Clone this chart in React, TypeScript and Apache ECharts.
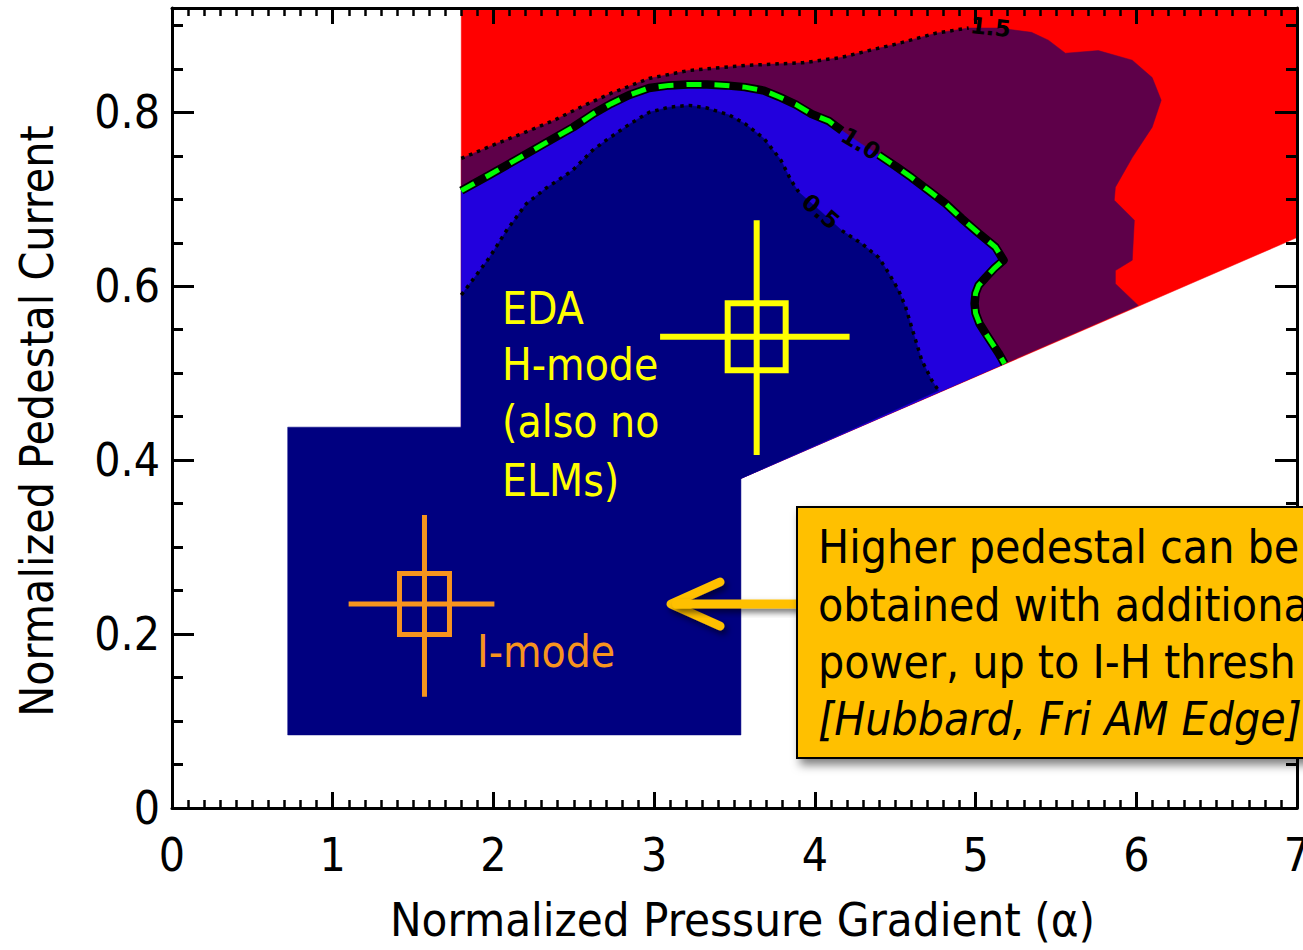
import React, { useEffect, useRef } from "react";
import * as echarts from "echarts";

const FONT = '"DejaVu Sans Condensed", "DejaVu Sans", sans-serif';

// ---- axes ----
const xTickLabels = ["0", "1", "2", "3", "4", "5", "6", "7"];
const yTickLabels = ["0", "0.2", "0.4", "0.6", "0.8"];
const xRange = [0, 7];
const yRange = [0, 0.92];

// ---- contour boundaries (alpha, normalized current) ----
const contour05: number[][] = [
  [1.8, 0.59], [1.87, 0.607], [1.975, 0.633], [2.081, 0.664], [2.205, 0.695], [2.329, 0.713],
  [2.491, 0.733], [2.615, 0.756], [2.702, 0.768], [2.851, 0.787], [2.969, 0.8], [3.093, 0.806],
  [3.217, 0.808], [3.329, 0.805], [3.466, 0.797], [3.565, 0.787], [3.683, 0.77], [3.789, 0.745],
  [3.851, 0.722], [3.901, 0.708], [4.037, 0.686], [4.168, 0.664], [4.292, 0.649], [4.398, 0.633],
  [4.46, 0.615], [4.522, 0.595], [4.565, 0.576], [4.602, 0.553], [4.627, 0.538], [4.665, 0.515],
  [4.727, 0.492], [4.77, 0.48],
];
const contour10: number[][] = [
  [1.8, 0.71], [1.975, 0.728], [2.137, 0.745], [2.317, 0.764], [2.497, 0.783], [2.627, 0.799],
  [2.733, 0.81], [2.845, 0.82], [2.969, 0.828], [3.093, 0.831], [3.211, 0.832], [3.329, 0.832],
  [3.447, 0.831], [3.565, 0.829], [3.683, 0.825], [3.776, 0.818], [3.882, 0.809], [3.981, 0.798],
  [4.087, 0.79], [4.168, 0.779], [4.286, 0.764], [4.398, 0.751], [4.503, 0.738], [4.602, 0.725],
  [4.708, 0.71], [4.814, 0.695], [4.913, 0.678], [5.019, 0.661], [5.124, 0.645], [5.174, 0.63],
  [5.118, 0.621], [5.062, 0.61], [5.019, 0.601], [5.0, 0.592], [4.994, 0.58], [5.0, 0.569],
  [5.025, 0.557], [5.062, 0.546], [5.143, 0.523], [5.18, 0.511],
];
const contour15: number[][] = [
  [1.8, 0.747], [2.019, 0.764], [2.224, 0.779], [2.379, 0.791], [2.565, 0.808], [2.733, 0.822],
  [2.969, 0.839], [3.211, 0.848], [3.565, 0.854], [3.925, 0.857], [4.161, 0.863], [4.335, 0.871],
  [4.516, 0.879], [4.752, 0.891], [4.957, 0.897], [5.143, 0.897], [5.348, 0.892], [5.453, 0.883],
  [5.559, 0.868], [5.764, 0.871], [5.975, 0.86], [6.099, 0.84], [6.155, 0.814], [6.099, 0.783],
  [5.975, 0.748], [5.87, 0.714], [5.863, 0.699], [5.988, 0.676], [5.975, 0.63], [5.87, 0.618],
  [5.87, 0.603], [6.012, 0.578],
];
// lower edge of the scanned domain and its left edge
const lowerEdge: number[][] = [[3.54, 0.379], [7.0, 0.656]];
const scanLeftX = 1.8;
// I-mode operating rectangle
const iModeX = [0.72, 3.54];
const iModeY = [0.084, 0.438];

// data points: [x, y, xLo, xHi, yLo, yHi]
const edaPoint = [3.638, 0.542, 3.037, 4.216, 0.406, 0.676];
const iModePoint = [1.571, 0.2345, 1.099, 2.006, 0.128, 0.337];

// contour level labels
const contourLabelText = ["0.5", "1.0", "1.5"];
const contourLabelPos: number[][] = [[4.037, 0.686], [4.286, 0.764], [5.093, 0.898]];
const contourLabelAngle = [-40, -31, -6];

// label gaps in the contour lines (alpha ranges)
const gap05 = [3.91, 4.16];
const gap10 = [4.17, 4.39];
const end15 = 4.96;

const NAVY = "#000080";
const BLUE = "#2200DD";
const PURPLE = "#5E0049";
const RED = "#FF0000";

function polySeries(pts: number[][], fill: string, z: number) {
  return {
    type: "custom",
    coordinateSystem: "cartesian2d",
    silent: true,
    z,
    data: pts,
    renderItem: (params: any, api: any) => {
      if (params.dataIndex !== 0) return null;
      return {
        type: "polygon",
        shape: { points: pts.map((p) => api.coord(p)) },
        style: { fill, stroke: fill, lineWidth: 0.5 },
      };
    },
  };
}

function lineSeries(pts: number[][], style: any, z: number) {
  return {
    type: "custom",
    coordinateSystem: "cartesian2d",
    silent: true,
    z,
    data: pts,
    renderItem: (params: any, api: any) => {
      if (params.dataIndex !== 0) return null;
      return {
        type: "polyline",
        shape: { points: pts.map((p) => api.coord(p)) },
        style: Object.assign({ fill: "none" }, style),
      };
    },
  };
}

function crossSeries(pt: number[], color: string, lw: number, w: number, h: number) {
  return {
    type: "custom",
    coordinateSystem: "cartesian2d",
    silent: true,
    z: 20,
    dimensions: ["x", "y", "xLo", "xHi", "yLo", "yHi"],
    encode: { x: [0, 2, 3], y: [1, 4, 5] },
    data: [pt],
    renderItem: (params: any, api: any) => {
      const c = api.coord([api.value(0), api.value(1)]);
      const l = api.coord([api.value(2), api.value(1)]);
      const r = api.coord([api.value(3), api.value(1)]);
      const b = api.coord([api.value(0), api.value(4)]);
      const t = api.coord([api.value(0), api.value(5)]);
      return {
        type: "group",
        children: [
          { type: "line", shape: { x1: l[0], y1: l[1], x2: r[0], y2: r[1] }, style: { stroke: color, lineWidth: lw } },
          { type: "line", shape: { x1: b[0], y1: b[1], x2: t[0], y2: t[1] }, style: { stroke: color, lineWidth: lw } },
          { type: "rect", shape: { x: c[0] - w / 2, y: c[1] - h / 2, width: w, height: h }, style: { fill: "none", stroke: color, lineWidth: lw } },
        ],
      };
    },
  };
}

function buildOption() {
  const domainBottomLeft = [scanLeftX, lowerEdge[0][1]];
  const redPoly = [
    [scanLeftX, yRange[1]], [xRange[1], yRange[1]], lowerEdge[1], lowerEdge[0], domainBottomLeft,
  ];
  const purplePoly = [...contour15, lowerEdge[0], domainBottomLeft];
  const bluePoly = [...contour10, lowerEdge[0], domainBottomLeft];
  const navyPoly = [
    ...contour05, lowerEdge[0], [iModeX[1], iModeY[0]], [iModeX[0], iModeY[0]],
    [iModeX[0], iModeY[1]], [scanLeftX, iModeY[1]],
  ];

  const c05a = contour05.filter((p) => p[0] <= gap05[0]);
  const c05b = contour05.filter((p) => p[0] >= gap05[1]);
  const c10a = contour10.filter((p) => p[0] <= gap10[0]);
  const c10b = contour10.filter((p) => p[0] >= gap10[1]);
  const c15a = contour15.filter((p) => p[0] <= end15);

  const dotted = { stroke: "#000", lineWidth: 3.5, lineDash: [3.5, 5] };
  const blackThick = { stroke: "#000", lineWidth: 8.5, lineJoin: "round" };
  const greenDash = { stroke: "#00FF00", lineWidth: 5, lineDash: [15, 13] };

  const axisLine = { show: true, onZero: false, lineStyle: { color: "#000", width: 3 } };
  const tickStyle = { color: "#000", width: 3 };
  const labelStyle = { fontSize: 46, fontFamily: FONT, color: "#000" };

  const xBase = (pos: string, showLabel: boolean) => ({
    type: "value",
    position: pos,
    min: xRange[0],
    max: xRange[1],
    interval: 1,
    z: 10,
    axisLine,
    axisTick: { show: true, inside: true, length: 16, lineStyle: tickStyle },
    minorTick: { show: true, splitNumber: 10, length: 8, lineStyle: { color: "#000", width: 2.5 } },
    axisLabel: {
      show: showLabel,
      margin: 24,
      ...labelStyle,
      formatter: (v: number) => xTickLabels[Math.round(v)] ?? "",
    },
    splitLine: { show: false },
    minorSplitLine: { show: false },
  });

  const yMajor = (pos: string, showLabel: boolean) => ({
    type: "value",
    position: pos,
    min: yRange[0],
    max: yRange[1],
    interval: 0.2,
    z: 10,
    axisLine,
    axisTick: { show: true, inside: true, length: 22, lineStyle: tickStyle },
    axisLabel: {
      show: showLabel,
      margin: 12,
      showMaxLabel: false,
      ...labelStyle,
      formatter: (v: number) => {
        const i = Math.round(v / 0.2);
        return Math.abs(v - i * 0.2) < 1e-6 ? yTickLabels[i] ?? "" : "";
      },
    },
    splitLine: { show: false },
  });
  const yMinor = (pos: string) => ({
    type: "value",
    position: pos,
    min: yRange[0],
    max: yRange[1],
    interval: 0.05,
    z: 10,
    axisLine: { show: false, onZero: false },
    axisTick: { show: true, inside: true, length: 11, lineStyle: tickStyle },
    axisLabel: { show: false },
    splitLine: { show: false },
  });

  const txt = (text: string, x: number, y: number, fill: string, size: number, z = 110, style = "normal") => ({
    type: "text",
    x,
    y,
    z,
    silent: true,
    style: {
      text,
      fill,
      font: `${style} ${size}px ${FONT}`,
      align: "left",
      verticalAlign: "middle",
    },
  });

  const arrowShadow = { shadowBlur: 6, shadowOffsetX: 3, shadowOffsetY: 4, shadowColor: "rgba(0,0,0,0.55)" };

  return {
    animation: false,
    backgroundColor: "#ffffff",
    grid: { left: 172, right: 6, top: 8, bottom: 142, containLabel: false, outerBoundsMode: "none" },
    xAxis: [
      {
        ...xBase("bottom", true),
        name: "Normalized Pressure Gradient (α)",
        nameLocation: "middle",
        nameGap: 88,
        nameTextStyle: { ...labelStyle, fontSize: 47, padding: [0, 0, 0, 16] },
      },
      xBase("top", false),
    ],
    yAxis: [
      {
        ...yMajor("left", true),
        name: "Normalized Pedestal Current",
        nameLocation: "middle",
        nameGap: 112,
        nameTextStyle: { ...labelStyle, padding: [0, 26, 0, 0] },
      },
      yMinor("left"),
      yMajor("right", false),
      yMinor("right"),
    ],
    series: [
      polySeries(redPoly, RED, 1),
      polySeries(purplePoly, PURPLE, 2),
      polySeries(bluePoly, BLUE, 3),
      polySeries(navyPoly, NAVY, 4),
      lineSeries(c05a, dotted, 6),
      lineSeries(c05b, dotted, 6),
      lineSeries(c15a, dotted, 6),
      lineSeries(c10a, blackThick, 6),
      lineSeries(c10b, blackThick, 6),
      lineSeries(c10a, greenDash, 7),
      lineSeries(c10b, greenDash, 7),
      {
        type: "custom",
        coordinateSystem: "cartesian2d",
        silent: true,
        z: 8,
        data: contourLabelPos,
        renderItem: (params: any, api: any) => {
          const p = api.coord(contourLabelPos[params.dataIndex]);
          return {
            type: "text",
            x: p[0],
            y: p[1],
            rotation: (contourLabelAngle[params.dataIndex] * Math.PI) / 180,
            style: {
              text: contourLabelText[params.dataIndex],
              fill: "#000",
              font: `bold 23px "DejaVu Sans", sans-serif`,
              align: "center",
              verticalAlign: "middle",
            },
          };
        },
      },
      crossSeries(edaPoint, "#FFFF00", 6, 58, 67),
      crossSeries(iModePoint, "#F7941E", 5, 50, 61),
    ],
    graphic: [
      txt("EDA", 502, 308, "#FFFF00", 44),
      txt("H-mode", 502, 364, "#FFFF00", 44),
      txt("(also no", 502, 421, "#FFFF00", 44),
      txt("ELMs)", 502, 480, "#FFFF00", 44),
      txt("I-mode", 477, 651, "#F7941E", 44),
      {
        type: "polyline",
        z: 100,
        silent: true,
        shape: { points: [[720, 582], [671, 604], [720, 626]] },
        style: {
          fill: "none", stroke: "#FFC000", lineWidth: 9, lineCap: "round", lineJoin: "round",
          ...arrowShadow,
        },
      },
      {
        type: "rect",
        z: 100,
        silent: true,
        shape: { x: 672, y: 599.5, width: 130, height: 9, r: 4.5 },
        style: { fill: "#FFC000", ...arrowShadow },
      },
      {
        type: "rect",
        z: 101,
        silent: true,
        shape: { x: 797, y: 507, width: 530, height: 251 },
        style: {
          fill: "#FFC000", stroke: "#000", lineWidth: 2,
          shadowBlur: 10, shadowOffsetX: 4, shadowOffsetY: 6, shadowColor: "rgba(0,0,0,0.5)",
        },
      },
      txt("Higher pedestal can be", 818, 547, "#000", 46, 102),
      txt("obtained with additiona", 818, 605, "#000", 46, 102),
      txt("power, up to I-H thresh", 818, 662, "#000", 46, 102),
      txt("[Hubbard, Fri AM Edge]", 818, 719, "#000", 46, 102, "italic"),
    ],
  };
}

export default function App() {
  const ref = useRef<HTMLDivElement>(null);
  useEffect(() => {
    if (!ref.current) return;
    const chart = echarts.init(ref.current, null, { renderer: "svg" });
    chart.setOption(buildOption() as any);
    return () => chart.dispose();
  }, []);
  return (
    <div
      ref={ref}
      style={{ position: "absolute", left: 0, top: 0, width: 1303, height: 950, background: "#fff" }}
    />
  );
}
